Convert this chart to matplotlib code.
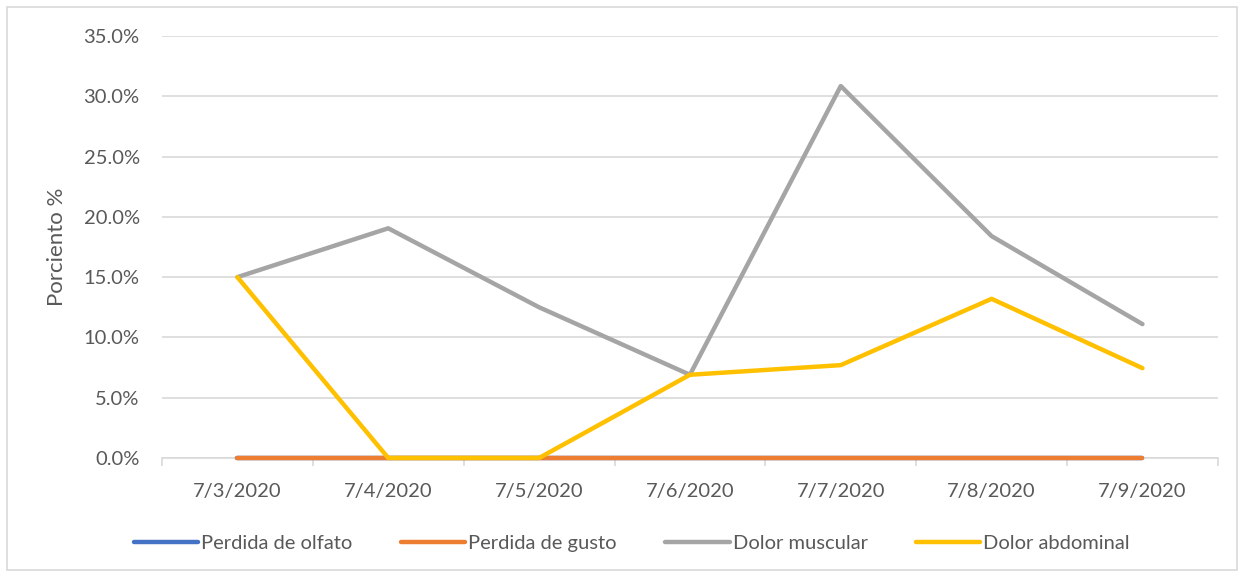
import numpy as np
import matplotlib.pyplot as plt
from matplotlib.patches import Rectangle
from matplotlib.ticker import FuncFormatter, FixedLocator

plt.rcParams['font.family'] = ['Lato', 'DejaVu Sans']

fechas = ["7/3/2020", "7/4/2020", "7/5/2020", "7/6/2020", "7/7/2020", "7/8/2020", "7/9/2020"]
olfato = [0, 0, 0, 0, 0, 0, 0]
gusto = [0, 0, 0, 0, 0, 0, 0]
muscular = [15.0, 19.05, 12.5, 6.9, 30.85, 18.4, 11.1]
abdominal = [15.0, 0, 0, 6.9, 7.7, 13.2, 7.45]

series = [
    ("Perdida de olfato", olfato, "#4472C4"),
    ("Perdida de gusto", gusto, "#ED7D31"),
    ("Dolor muscular", muscular, "#A5A5A5"),
    ("Dolor abdominal", abdominal, "#FFC000"),
]

fig = plt.figure(figsize=(12.44, 5.77), dpi=100)
ax = fig.add_axes([0.1302, 0.2063, 0.8488, 0.7313])

# chart border like the Excel chart area
fig.patches.append(Rectangle((0.006, 0.012), 0.988, 0.976, transform=fig.transFigure,
                             fill=False, edgecolor="#D9D9D9", linewidth=1.2))

x = np.arange(len(fechas))
for name, vals, col in series:
    ax.plot(x, vals, color=col, linewidth=3.2, solid_capstyle="round",
            solid_joinstyle="round", label=name, clip_on=False, zorder=3)

ax.set_xlim(-0.5, len(fechas) - 0.5)
ax.set_ylim(0, 35)
ax.set_yticks(np.arange(0, 36, 5))
ax.yaxis.set_major_formatter(FuncFormatter(lambda v, p: f"{v:.1f}%"))
ax.grid(axis="y", color="#D9D9D9", linewidth=1.2)
ax.set_axisbelow(True)

ax.set_xticks(x)
ax.set_xticklabels(fechas)
ax.xaxis.set_minor_locator(FixedLocator(np.arange(-0.5, len(fechas), 1.0)))
ax.tick_params(axis="x", which="major", length=0, pad=18, labelsize=14.5, colors="#595959")
ax.tick_params(axis="x", which="minor", length=6, color="#D9D9D9", width=1.2)
ax.tick_params(axis="y", length=0, pad=16, labelsize=14.5, colors="#595959")

for s in ["top", "right", "left"]:
    ax.spines[s].set_visible(False)
ax.spines["bottom"].set_color("#D9D9D9")
ax.spines["bottom"].set_linewidth(1.2)

ax.set_ylabel("Porciento %", fontsize=16, color="#595959", labelpad=12)

leg = fig.legend(loc="center", bbox_to_anchor=(0.508, 0.058), ncol=4, frameon=False,
                 fontsize=14.5, handlelength=3.2, handletextpad=0.15, columnspacing=2.4)
for t in leg.get_texts():
    t.set_color("#595959")

fig.savefig("out.png", dpi=100)
